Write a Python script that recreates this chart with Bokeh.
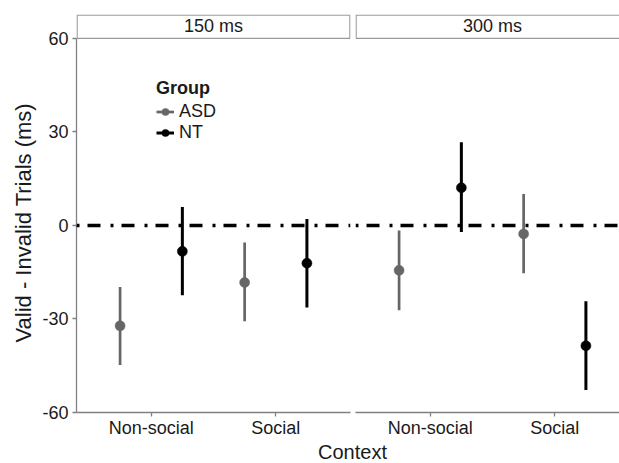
from bokeh.plotting import figure
from bokeh.models import (ColumnDataSource, Range1d, FixedTicker, Span, Title,
                          Label, Legend, LegendItem)
from bokeh.layouts import column, row
from bokeh.transform import dodge
from bokeh.embed import file_html
from bokeh.resources import INLINE

# ---------------- data ----------------
contexts = ["Non-social", "Social"]
groups = ["ASD", "NT"]
delays = ["150 ms", "300 ms"]

# 150 ms
asd_150_mean = [-32.2, -18.3]
asd_150_lo = [-44.8, -30.7]
asd_150_hi = [-19.7, -5.5]
nt_150_mean = [-8.3, -12.1]
nt_150_lo = [-22.4, -26.3]
nt_150_hi = [5.9, 2.1]

# 300 ms
asd_300_mean = [-14.4, -2.7]
asd_300_lo = [-27.2, -15.3]
asd_300_hi = [-1.6, 10.1]
nt_300_mean = [12.1, -38.6]
nt_300_lo = [-2.1, -52.8]
nt_300_hi = [26.7, -24.3]

y_ticks = [-60, -30, 0, 30, 60]
y_tick_labels = ["-60", "-30", "0", "30", "60"]

# ---------------- styling ----------------
FONT = "Liberation Sans"
AXIS_GRAY = "#808080"
STRIP_GRAY = "#9a9a9a"
TEXT = "#1a1a1a"
COLORS = {"ASD": "#666666", "NT": "#000000"}
WIDTHS = {"ASD": 2.7, "NT": 3.0}

PX_PER_X = 274 / 2.2
PX_PER_Y = 375 / 120
Y_TOP = 60 + 24 / PX_PER_Y


def make_panel(delay, data, left):
    x_end = 2.6 if left else 0.4 + 264 / PX_PER_X
    p = figure(width=351 if left else 268, height=440,
               x_range=Range1d(0.4, x_end), y_range=Range1d(-60, Y_TOP),
               output_backend="svg", toolbar_location=None,
               min_border_left=76 if left else 4, min_border_right=1 if left else 0,
               min_border_top=14, min_border_bottom=27,
               y_axis_location="left" if left else None)
    p.outline_line_color = None
    p.background_fill_color = "white"
    p.border_fill_color = "white"
    p.xgrid.visible = False
    p.ygrid.visible = False

    xa = p.xaxis[0]
    xa.ticker = FixedTicker(ticks=[i + 1 for i in range(len(contexts))])
    xa.major_label_overrides = {i + 1: c for i, c in enumerate(contexts)}
    xa.axis_line_color = AXIS_GRAY
    xa.axis_line_width = 1.3
    xa.major_tick_line_color = AXIS_GRAY
    xa.major_tick_line_width = 1.3
    xa.major_tick_out = 4
    xa.major_tick_in = 0
    xa.minor_tick_line_color = None
    xa.major_label_standoff = 1
    xa.axis_label_standoff = 0
    xa.major_label_text_line_height = 1.0
    xa.major_label_text_font = FONT
    xa.major_label_text_font_size = "18px"
    xa.major_label_text_color = TEXT

    if left:
        ya = p.yaxis[0]
        ya.ticker = FixedTicker(ticks=y_ticks)
        ya.major_label_overrides = dict(zip(y_ticks, y_tick_labels))
        ya.bounds = (-60, 60)
        ya.axis_line_color = AXIS_GRAY
        ya.axis_line_width = 1.3
        ya.major_tick_line_color = AXIS_GRAY
        ya.major_tick_line_width = 1.3
        ya.major_tick_out = 4
        ya.major_tick_in = 0
        ya.minor_tick_line_color = None
        ya.major_label_standoff = 4
        ya.major_label_text_font = FONT
        ya.major_label_text_font_size = "18px"
        ya.major_label_text_color = TEXT
        # axis title, placed so that it is centred on the panel, not panel + strip
        p.add_layout(Title(text="Valid - Invalid Trials (ms)", align="left", offset=70,
                           standoff=7, text_font=FONT, text_font_size="22px",
                           text_font_style="normal", text_color=TEXT), "left")

    # strip (box + label)
    eps_x = 0.6 / PX_PER_X
    eps_y = 0.6 / PX_PER_Y
    strip_right = 2.6 - eps_x if left else x_end + 1.0
    p.quad(left=[0.4 + eps_x], right=[strip_right], bottom=[60], top=[Y_TOP - eps_y],
           fill_color="white", line_color=STRIP_GRAY, line_width=1.3)
    p.add_layout(Label(x=1.5, y=(60 + Y_TOP) / 2, text=delay, text_align="center",
                       text_baseline="middle", text_font=FONT, text_font_size="18px",
                       text_color=TEXT, level="overlay"))

    # reference line at zero
    p.add_layout(Span(location=0, dimension="width", line_color="black",
                      line_width=3.5, line_dash="13 10 3 8", line_dash_offset=23))

    items = []
    for g, off in zip(groups, [-0.25, 0.25]):
        mean, lo, hi = data[g]
        src = ColumnDataSource(dict(x=[i + 1 for i in range(len(contexts))],
                                    mean=mean, lo=lo, hi=hi))
        seg = p.segment(x0=dodge("x", off), x1=dodge("x", off), y0="lo", y1="hi",
                        source=src, line_color=COLORS[g], line_width=WIDTHS[g])
        pts = p.scatter(x=dodge("x", off), y="mean", source=src, size=10,
                        fill_color=COLORS[g], line_color=COLORS[g], line_width=0.5)
        items.append(LegendItem(label=g, renderers=[seg, pts]))

    if left:
        leg = Legend(items=items, location=(80, 269), title="Group",
                     title_text_font=FONT, title_text_font_size="18px",
                     title_text_font_style="bold", title_text_color=TEXT,
                     title_standoff=2,
                     label_text_font=FONT, label_text_font_size="18px",
                     label_text_color=TEXT, label_standoff=5,
                     glyph_width=18, glyph_height=19, label_height=19, spacing=-5,
                     padding=0, margin=0, background_fill_alpha=0,
                     border_line_color=None)
        p.add_layout(leg)
    return p


left_panel = make_panel(delays[0], {"ASD": (asd_150_mean, asd_150_lo, asd_150_hi),
                                    "NT": (nt_150_mean, nt_150_lo, nt_150_hi)}, True)
right_panel = make_panel(delays[1], {"ASD": (asd_300_mean, asd_300_lo, asd_300_hi),
                                     "NT": (nt_300_mean, nt_300_lo, nt_300_hi)}, False)

ctx = figure(width=619, height=23, x_range=Range1d(0, 619), y_range=Range1d(0, 23),
             output_backend="svg", toolbar_location=None, min_border=0,
             x_axis_location=None, y_axis_location=None)
ctx.outline_line_color = None
ctx.xgrid.visible = False
ctx.ygrid.visible = False
ctx.add_layout(Label(x=352, y=11.5, text="Context", text_align="center",
                     text_baseline="middle", text_font=FONT, text_font_size="20px",
                     text_color=TEXT))

layout = column(row(left_panel, right_panel), ctx)

open("out.html", "w").write(file_html(layout, INLINE))
